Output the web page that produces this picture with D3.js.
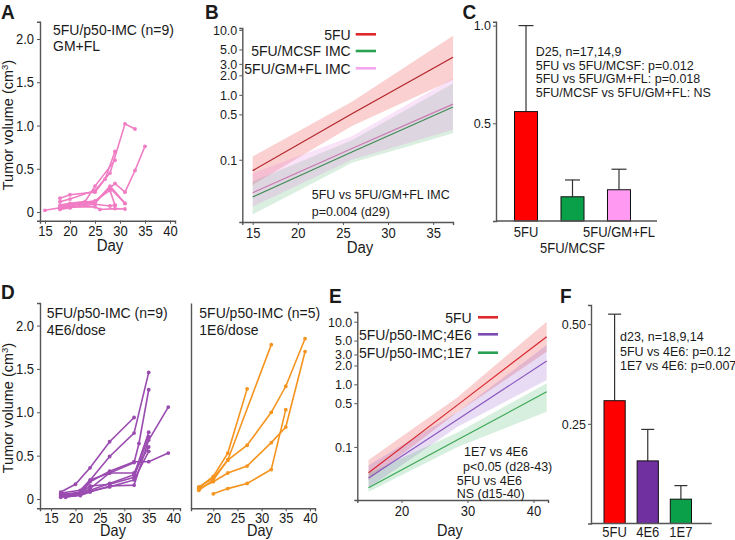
<!DOCTYPE html>
<html><head><meta charset="utf-8">
<script src="https://cdn.jsdelivr.net/npm/d3@7"></script>
<style>
body{margin:0;background:#fff}
text{font-family:"Liberation Sans",Arial,Helvetica,sans-serif;fill:#1a1a1a}
text.s{transform-box:fill-box;transform-origin:center;transform:scaleY(1.08)}
</style></head>
<body><svg id="chart" width="735" height="540"></svg>
<script>
// ---------------- DATA ----------------
// Panel A: 5FU/p50-IMC GM+FL, individual mice [day, volume cm3]
const gmflMice = [
  [[15,0.02],[18,0.05],[20,0.07],[22,0.10],[25,0.12],[29,0.33],[31,0.23],[33,0.48],[35,0.76]],
  [[18,0.12],[20,0.15],[25,0.25],[28,0.45],[31,1.02],[33,0.96]],
  [[18,0.16],[20,0.20],[25,0.23],[27,0.38],[29,0.70]],
  [[18,0.08],[20,0.10],[23,0.12],[25,0.30],[29,0.60]],
  [[18,0.05],[20,0.08],[25,0.10],[28,0.30],[31,0.10]],
  [[18,0.04],[20,0.06],[25,0.06],[26,0.03],[29,0.04],[31,0.035]],
  [[18,0.06],[20,0.09],[25,0.13],[28,0.25],[29,0.08]],
  [[18,0.03],[20,0.05],[25,0.09],[28,0.07],[29,0.08]],
  [[20,0.05],[25,0.12],[28,0.28],[31,0.10]]
];
const aYTicks = [0, 0.5, 1.0, 1.5, 2.0];
const aXTicks = [15, 20, 25, 30, 35, 40];

// Panel B: fitted growth (log scale) with confidence bands
const bDays = [15, 26, 37.2];
const b5fuFit = [0.068, 0.51, 3.8],  b5fuLo = [0.041, 0.33, 1.7],  b5fuHi = [0.112, 0.78, 8.1];
const bMcsfFit = [0.0267, 0.132, 0.65], bMcsfLo = [0.0144, 0.09, 0.257], bMcsfHi = [0.046, 0.20, 1.5];
const bGmflFit = [0.031, 0.149, 0.72], bGmflLo = [0.019, 0.10, 0.29], bGmflHi = [0.062, 0.23, 1.8];
const logTicks = [0.1, 0.5, 1.0, 2.0, 3.0, 5.0, 10.0];
const bXTicks = [15, 20, 25, 30, 35];
const bLegend = ["5FU", "5FU/MCSF IMC", "5FU/GM+FL IMC"];

// Panel C: day 25 volumes
const cGroups = ["5FU", "5FU/MCSF", "5FU/GM+FL"];
const cMeans = [0.56, 0.124, 0.16];
const cUpper = [1.0, 0.21, 0.265];
const cTicks = [0.5, 1.0];
const cNotes = ["D25, n=17,14,9", "5FU vs 5FU/MCSF: p=0.012", "5FU vs 5FU/GM+FL: p=0.018", "5FU/MCSF vs 5FU/GM+FL: NS"];

// Panel D: individual mice
const d4e6Mice = [
  [[17,0.08],[20,0.17],[23,0.36],[27,0.66],[32,0.94]],
  [[17,0.05],[21,0.08],[27,0.49],[32,0.76],[35,1.46]],
  [[17,0.04],[21,0.06],[23,0.12],[27,0.30],[32,0.42],[33,0.64],[35,1.26]],
  [[17,0.06],[21,0.05],[23,0.20],[27,0.32],[32,0.43],[35,0.43],[39,0.53]],
  [[17,0.03],[20,0.05],[23,0.10],[27,0.18],[32,0.28],[35,0.77]],
  [[17,0.05],[21,0.07],[23,0.15],[27,0.17],[32,0.25],[35,0.72]],
  [[17,0.02],[21,0.04],[23,0.08],[27,0.15],[32,0.16],[35,0.68],[39,1.06]],
  [[17,0.07],[21,0.10],[23,0.22],[27,0.30],[32,0.30],[35,0.60]],
  [[18,0.02],[21,0.05],[23,0.09],[27,0.14],[32,0.22],[35,0.55]]
];
const d1e6Mice = [
  [[17,0.13],[20,0.26],[23,0.53],[27,1.27]],
  [[17,0.10],[20,0.22],[23,0.45],[32,1.78]],
  [[17,0.14],[20,0.24],[23,0.45],[27,0.62],[32,1.0],[35,1.30],[39,1.85]],
  [[17,0.12],[20,0.20],[23,0.30],[27,0.38],[32,0.65],[35,0.83],[39,1.70]],
  [[20,0.06],[23,0.12],[27,0.18],[32,0.34],[35,1.03]]
];
const dXTicksL = [15, 20, 25, 30, 35, 40];
const dXTicksR = [20, 25, 30, 35, 40];

// Panel E
const eDays = [15, 28.5, 42];
const e5fuFit = [0.0387, 0.47, 5.75], e5fuLo = [0.0296, 0.36, 3.3], e5fuHi = [0.062, 0.62, 10.0];
const e4e6Fit = [0.032, 0.275, 2.36], e4e6Lo = [0.022, 0.21, 1.17], e4e6Hi = [0.051, 0.36, 4.25];
const e1e7Fit = [0.0223, 0.13, 0.76], e1e7Lo = [0.0193, 0.10, 0.365], e1e7Hi = [0.038, 0.17, 1.04];
const eXTicks = [20, 30, 40];
const eLegend = ["5FU", "5FU/p50-IMC;4E6", "5FU/p50-IMC;1E7"];

// Panel F: day 23 volumes
const fGroups = ["5FU", "4E6", "1E7"];
const fMeans = [0.308, 0.157, 0.061];
const fUpper = [0.525, 0.236, 0.095];
const fTicks = [0.25, 0.50];
const fNotes = ["d23, n=18,9,14", "5FU vs 4E6: p=0.12", "1E7 vs 4E6: p=0.007"];

// ---------------- DRAWING ----------------
const svg = d3.select("#chart");
const AX = "#555";

function styleAxis(g, fs){
  g.select(".domain").attr("stroke", AX).attr("stroke-width", 1.4);
  g.selectAll(".tick line").attr("stroke", AX).attr("stroke-width", 1);
  g.selectAll(".tick text").attr("font-size", fs).attr("fill", "#1a1a1a").attr("class", "s")
   .style("font-family", '"Liberation Sans",Arial,sans-serif');
}
function label(x, y, s, fs, opts={}){
  const t = svg.append("text").attr("class", "s").attr("x", x).attr("y", y).attr("font-size", fs).text(s);
  if (opts.anchor) t.attr("text-anchor", opts.anchor);
  if (opts.bold) t.attr("font-weight", "bold");
  return t;
}
function yTitle(x, y){
  const t = svg.append("text").attr("transform", `translate(${x},${y}) rotate(-90)`)
    .attr("text-anchor", "middle").attr("font-size", 14.5);
  t.append("tspan").text("Tumor volume (cm");
  t.append("tspan").attr("dy", -5).attr("font-size", 9.5).text("3");
  t.append("tspan").attr("dy", 5).text(")");
}
function mice(data, x, y, color){
  const line = d3.line().x(d => x(d[0])).y(d => y(d[1]));
  const g = svg.append("g");
  data.forEach(m => {
    g.append("path").attr("d", line(m)).attr("fill", "none").attr("stroke", color).attr("stroke-width", 1.6);
    g.selectAll(null).data(m).join("circle").attr("cx", d => x(d[0])).attr("cy", d => y(d[1]))
      .attr("r", 1.9).attr("fill", color);
  });
}
function band(days, lo, hi, x, y, color, op){
  const area = d3.area().x((d,i) => x(days[i])).y0((d,i) => y(lo[i])).y1((d,i) => y(hi[i]));
  svg.append("path").attr("d", area(days)).attr("fill", color).attr("fill-opacity", op);
}
function fitLine(days, fit, x, y, color){
  const line = d3.line().x((d,i) => x(days[i])).y((d,i) => y(fit[i]));
  svg.append("path").attr("d", line(days)).attr("fill", "none").attr("stroke", color).attr("stroke-width", 1.2);
}

// ===== Panel A =====
{
  const x = d3.scaleLinear().domain([14, 41]).range([40, 175]);
  const y = d3.scaleLinear().domain([-0.1, 2.2]).range([220.7, 21.7]);
  styleAxis(svg.append("g").attr("transform", "translate(0,220.7)")
    .call(d3.axisBottom(x).tickValues(aXTicks).tickSize(3).tickPadding(3)), 13);
  styleAxis(svg.append("g").attr("transform", "translate(40,0)")
    .call(d3.axisLeft(y).tickValues(aYTicks).tickSize(3).tickPadding(3).tickFormat(d => d === 0 ? "0" : d3.format(".1f")(d))), 13);
  mice(gmflMice, x, y, "#f07cc4");
  label(53, 35, "5FU/p50-IMC (n=9)", 14);
  label(53, 51, "GM+FL", 14);
  label(110, 251, "Day", 15, {anchor: "middle"});
  yTitle(13, 125);
  label(1, 18, "A", 19, {bold: true});
}

// ===== Panel B =====
{
  const x = d3.scaleLinear().domain([13.85, 37.2]).range([242.3, 453]);
  const y = d3.scaleLog().domain([0.011, 10.7]).range([222, 28]);
  band(bDays, b5fuLo, b5fuHi, x, y, "#e8282b", 0.22);
  band(bDays, bMcsfLo, bMcsfHi, x, y, "#1f9a45", 0.16);
  band(bDays, bGmflLo, bGmflHi, x, y, "#e27ee0", 0.22);
  fitLine(bDays, b5fuFit, x, y, "#b4232a");
  fitLine(bDays, bMcsfFit, x, y, "#3f8a55");
  fitLine(bDays, bGmflFit, x, y, "#c979b0");
  styleAxis(svg.append("g").attr("transform", "translate(0,222)")
    .call(d3.axisBottom(x).tickValues(bXTicks).tickSize(3).tickPadding(3)), 13);
  styleAxis(svg.append("g").attr("transform", "translate(242.3,0)")
    .call(d3.axisLeft(y).tickValues(logTicks).tickSize(3).tickPadding(2).tickFormat(d3.format(".1f"))), 12.5);
  const legCol = ["#e0282d", "#2aa052", "#f2a6ee"];
  bLegend.forEach((s, i) => {
    const cy = [34.3, 51, 68.3][i];
    label(350.7, cy + 5, s, 14, {anchor: "end"});
    svg.append("line").attr("x1", 355.7).attr("x2", 376).attr("y1", cy).attr("y2", cy)
      .attr("stroke", legCol[i]).attr("stroke-width", 2.6);
  });
  label(311.7, 199, "5FU vs 5FU/GM+FL IMC", 12.5);
  label(311.7, 215.5, "p=0.004 (d29)", 12.5);
  label(360, 253, "Day", 15, {anchor: "middle"});
  label(205, 18, "B", 19, {bold: true});
}

// ===== Panel C =====
{
  const x = d3.scaleBand().domain(cGroups).range([514.5, 630.5]).paddingInner(0.505);
  const y = d3.scaleLinear().domain([0, 1.02]).range([221, 21.7]);
  const cols = ["#ff0000", "#0aa04a", "#ff99f2"];
  cGroups.forEach((g, i) => {
    const cx = x(g) + x.bandwidth() / 2;
    svg.append("line").attr("x1", cx).attr("x2", cx).attr("y1", y(cMeans[i])).attr("y2", y(cUpper[i]))
      .attr("stroke", "#333").attr("stroke-width", 1.2);
    svg.append("line").attr("x1", cx - 7.5).attr("x2", cx + 7.5).attr("y1", y(cUpper[i])).attr("y2", y(cUpper[i]))
      .attr("stroke", "#333").attr("stroke-width", 1.2);
    svg.append("rect").attr("x", x(g)).attr("width", x.bandwidth()).attr("y", y(cMeans[i]))
      .attr("height", y(0) - y(cMeans[i])).attr("fill", cols[i]).attr("stroke", "#111").attr("stroke-width", 1);
    label(cx, 237 + (i === 1 ? 16 : 0), g, 13, {anchor: "middle"});
  });
  svg.append("line").attr("x1", 496).attr("x2", 657).attr("y1", 221).attr("y2", 221).attr("stroke", AX).attr("stroke-width", 1.4);
  const ga = svg.append("g").attr("transform", "translate(496,0)")
    .call(d3.axisLeft(y).tickValues(cTicks).tickSize(3).tickPadding(2).tickFormat(d3.format(".1f")));
  styleAxis(ga, 12.5);
  cNotes.forEach((s, i) => label(535.7, [56, 69.5, 83, 96.5][i], s, 12.5));
  label(462.5, 18, "C", 19, {bold: true});
}

// ===== Panel D =====
{
  const xL = d3.scaleLinear().domain([12.75, 41.4]).range([40, 180]);
  const y = d3.scaleLinear().domain([-0.107, 2.26]).range([508.3, 303]);
  styleAxis(svg.append("g").attr("transform", "translate(0,508.3)")
    .call(d3.axisBottom(xL).tickValues(dXTicksL).tickSize(3).tickPadding(2)), 13);
  styleAxis(svg.append("g").attr("transform", "translate(40,0)")
    .call(d3.axisLeft(y).tickValues(aYTicks).tickSize(3).tickPadding(3).tickFormat(d => d === 0 ? "0" : d3.format(".1f")(d))), 13);
  mice(d4e6Mice, xL, y, "#9a4bb0");
  label(46.7, 318, "5FU/p50-IMC (n=9)", 14);
  label(46.7, 335, "4E6/dose", 14);
  label(113, 536, "Day", 14.5, {anchor: "middle"});
  yTitle(13, 408);

  const xR = d3.scaleLinear().domain([15.38, 41.05]).range([191, 315]);
  styleAxis(svg.append("g").attr("transform", "translate(0,508.3)")
    .call(d3.axisBottom(xR).tickValues(dXTicksR).tickSize(3).tickPadding(2)), 13);
  styleAxis(svg.append("g").attr("transform", "translate(191,0)")
    .call(d3.axisLeft(y).tickValues([]).tickSize(0)), 13);
  mice(d1e6Mice, xR, y, "#f5941f");
  label(199.3, 318, "5FU/p50-IMC (n=5)", 14);
  label(199.3, 335, "1E6/dose", 14);
  label(260, 536, "Day", 14.5, {anchor: "middle"});
  label(1, 298, "D", 19, {bold: true});
}

// ===== Panel E =====
{
  const x = d3.scaleLinear().domain([13.3, 42.2]).range([357.3, 548]);
  const y = d3.scaleLog().domain([0.0142, 14.3]).range([500, 312]);
  band(eDays, e5fuLo, e5fuHi, x, y, "#e8282b", 0.22);
  band(eDays, e4e6Lo, e4e6Hi, x, y, "#8a4fc8", 0.2);
  band(eDays, e1e7Lo, e1e7Hi, x, y, "#22a84a", 0.18);
  fitLine(eDays, e5fuFit, x, y, "#d7262e");
  fitLine(eDays, e4e6Fit, x, y, "#8b57c0");
  fitLine(eDays, e1e7Fit, x, y, "#3aa654");
  styleAxis(svg.append("g").attr("transform", "translate(0,500)")
    .call(d3.axisBottom(x).tickValues(eXTicks).tickSize(3).tickPadding(3)), 13);
  styleAxis(svg.append("g").attr("transform", "translate(357.3,0)")
    .call(d3.axisLeft(y).tickValues(logTicks).tickSize(3).tickPadding(2).tickFormat(d3.format(".1f"))), 12.5);
  const legCol = ["#e0282d", "#7b4bb3", "#2aa052"];
  eLegend.forEach((s, i) => {
    const cy = [317.3, 334.3, 352.7][i];
    label(471.7, cy + 5, s, 14, {anchor: "end"});
    svg.append("line").attr("x1", 478).attr("x2", 498).attr("y1", cy).attr("y2", cy)
      .attr("stroke", legCol[i]).attr("stroke-width", 2.6);
  });
  label(464, 456, "1E7 vs 4E6", 12.5);
  label(463, 471, "p<0.05 (d28-43)", 12.5);
  label(456.7, 484.5, "5FU vs 4E6", 12.5);
  label(456.7, 497.5, "NS (d15-40)", 12.5);
  label(450, 536, "Day", 14.5, {anchor: "middle"});
  label(329, 302, "E", 19, {bold: true});
}

// ===== Panel F =====
{
  const x = d3.scaleBand().domain(fGroups).range([604, 691.5]).paddingInner(0.36);
  const y = d3.scaleLinear().domain([0, 0.548]).range([523.5, 305]);
  const cols = ["#ff0000", "#7030a0", "#0aa04a"];
  fGroups.forEach((g, i) => {
    const cx = x(g) + x.bandwidth() / 2;
    svg.append("line").attr("x1", cx).attr("x2", cx).attr("y1", y(fMeans[i])).attr("y2", y(fUpper[i]))
      .attr("stroke", "#333").attr("stroke-width", 1.2);
    svg.append("line").attr("x1", cx - 6.5).attr("x2", cx + 6.5).attr("y1", y(fUpper[i])).attr("y2", y(fUpper[i]))
      .attr("stroke", "#333").attr("stroke-width", 1.2);
    svg.append("rect").attr("x", x(g)).attr("width", x.bandwidth()).attr("y", y(fMeans[i]))
      .attr("height", y(0) - y(fMeans[i])).attr("fill", cols[i]).attr("stroke", "#111").attr("stroke-width", 1);
    label(cx, 537, g, 13, {anchor: "middle"});
  });
  svg.append("line").attr("x1", 591).attr("x2", 711.7).attr("y1", 523.5).attr("y2", 523.5).attr("stroke", AX).attr("stroke-width", 1.4);
  styleAxis(svg.append("g").attr("transform", "translate(591,0)")
    .call(d3.axisLeft(y).tickValues(fTicks).tickSize(3).tickPadding(2).tickFormat(d3.format(".2f"))), 12.5);
  fNotes.forEach((s, i) => label(620, [341, 355.5, 370][i], s, 12.5));
  label(560, 302, "F", 19, {bold: true});
}
</script></body></html>
